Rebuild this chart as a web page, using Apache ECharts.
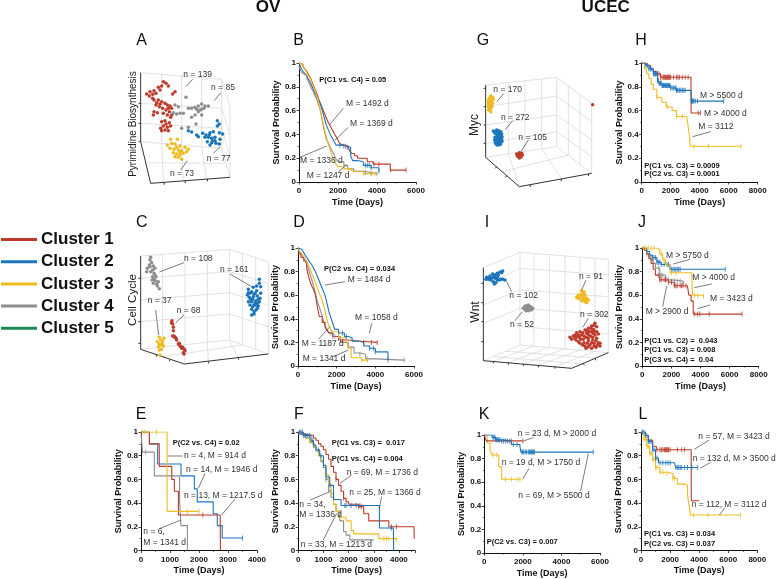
<!DOCTYPE html>
<html>
<head>
<meta charset="utf-8">
<style>html,body{margin:0;padding:0;background:#fff}#chart{width:778px;height:579px}</style>
<script src="https://cdn.jsdelivr.net/npm/echarts@6/dist/echarts.min.js"></script>
</head>
<body>
<div id="chart"></div>
<script>
// ---- survival curves, [days, probability] ----
const bC1 = [[0,1],[100,.99],[200,.97],[300,.95],[400,.93],[500,.9],[600,.87],[700,.83],[800,.79],[900,.75],[1000,.70],[1100,.66],[1200,.62],[1300,.58],[1400,.54],[1500,.5],[1600,.47],[1700,.44],[1800,.41],[1900,.38],[2000,.35],[2100,.32],[2200,.31],[2300,.30],[2500,.29],[2600,.26],[2700,.24],[2850,.22],[3000,.2],[3500,.17],[3800,.15],[4680,.10],[5490,.10]]
const bC2 = [[0,1],[100,.96],[200,.93],[300,.91],[400,.89],[500,.86],[600,.83],[700,.79],[800,.75],[900,.72],[1000,.69],[1100,.65],[1200,.60],[1300,.54],[1400,.48],[1500,.44],[1600,.40],[1700,.37],[1800,.34],[1900,.31],[2200,.30],[2500,.29],[2650,.22],[2750,.18],[3000,.17],[3300,.14],[3700,.12],[4100,.09]]
const bC3 = [[0,1],[100,.99],[200,.97],[300,.95],[400,.92],[500,.89],[600,.86],[700,.82],[800,.78],[900,.73],[1000,.68],[1100,.6],[1200,.52],[1300,.45],[1400,.38],[1500,.32],[1600,.27],[1700,.22],[1800,.18],[1900,.15],[2000,.13],[2300,.11],[2700,.09],[3300,.07],[3900,.07]]
const bC4 = [[0,.97],[100,.93],[200,.91],[300,.9],[400,.87],[500,.84],[600,.8],[700,.77],[800,.73],[900,.70],[1000,.65],[1100,.6],[1200,.51],[1300,.43],[1400,.36],[1500,.33],[1600,.29],[1700,.26],[1800,.23],[1900,.19],[2000,.17],[2300,.14],[2500,.11],[2800,.09],[3300,.08],[3700,.07],[4000,.07]]
const bCens1 = [2400, 3850, 4100, 4700, 5490]
const bCens2 = [2100, 2300, 2500, 3400, 3500, 3600, 3700, 4100]
const bCens3 = [3300, 3700, 3900]
const bCens4 = [3400, 3700, 4000]

const dC1 = [[0,.95],[150,.92],[300,.89],[450,.83],[500,.79],[600,.73],[700,.68],[800,.65],[900,.6],[950,.55],[1000,.5],[1100,.42],[1250,.37],[1400,.33],[1500,.3],[1600,.28],[1800,.25],[2100,.22],[2600,.21],[3300,.2],[4100,.2]]
const dC2 = [[0,1],[100,.99],[200,.98],[300,.96],[400,.93],[500,.91],[600,.88],[700,.86],[800,.83],[900,.8],[1000,.76],[1100,.72],[1200,.68],[1300,.64],[1400,.6],[1500,.53],[1600,.46],[1700,.41],[1800,.36],[1900,.31],[2100,.28],[2400,.25],[2600,.24],[2800,.21],[3200,.20],[3400,.17],[3700,.15],[4000,.12],[4650,.12],[4660,.05]]
const dC3 = [[0,1],[100,.97],[200,.95],[300,.93],[400,.9],[500,.87],[600,.83],[700,.79],[800,.75],[900,.71],[1000,.66],[1100,.62],[1200,.58],[1300,.53],[1400,.47],[1500,.39],[1600,.34],[1700,.31],[1800,.29],[2100,.24],[2500,.22],[2600,.15],[2750,.07],[3300,.05],[3600,.05]]
const dC4 = [[0,.98],[100,.96],[200,.94],[300,.91],[400,.88],[500,.84],[600,.79],[700,.74],[800,.68],[900,.62],[1000,.55],[1100,.5],[1200,.45],[1300,.39],[1400,.34],[1500,.31],[1600,.28],[1800,.25],[2200,.2],[2600,.16],[2900,.11],[3200,.1],[3500,.06],[4000,.05],[5500,.05]]
const dCens1 = [3400, 3800, 4100]
const dCens2 = [2300, 2500, 3700, 3900, 4000, 4660]
const dCens3 = [3300, 3600]
const dCens4 = [1700, 1800, 1900, 3200, 3600, 5500]

const eC1 = [[0,1],[290,.9],[630,.71],[1060,.6],[1150,.5],[1290,.3],[2730,.3],[2740,0]]
const eC2 = [[0,1],[290,.9],[575,.73],[1380,.63],[1840,.52],[1940,.41],[2490,.31],[2630,.21],[2800,.105],[3500,.105]]
const eC3 = [[0,1],[900,.33],[2000,.33]]
const eC4 = [[0,1],[50,.83],[460,.63],[1330,.42],[1380,.21],[1600,0]]
const eCens1 = [2130]
const eCens2 = [3500]
const eCens3 = [60, 130, 530, 1600, 2000]
const eCens4 = [160]

const fC1 = [[0,1],[150,.98],[300,.97],[600,.95],[700,.93],[800,.9],[900,.88],[1000,.85],[1100,.81],[1200,.77],[1300,.71],[1400,.66],[1500,.6],[1600,.55],[1700,.5],[1800,.44],[1900,.41],[2000,.39],[2400,.37],[2600,.31],[2800,.25],[3200,.25],[3600,.2],[4600,.2],[4610,.1]]
const fC2 = [[0,1],[200,.97],[500,.93],[600,.89],[700,.85],[850,.8],[1000,.72],[1100,.62],[1250,.55],[1400,.43],[1700,.38],[3220,.38],[3230,.19],[3780,.19],[3790,0]]
const fC3 = [[0,1],[150,.98],[300,.95],[450,.91],[600,.87],[700,.84],[800,.8],[900,.76],[1000,.72],[1100,.64],[1200,.56],[1300,.48],[1400,.39],[1500,.33],[1600,.28],[1900,.25],[2100,.17],[2200,.14],[3200,.1],[3900,.09]]
const fC4 = [[0,.98],[300,.95],[450,.92],[600,.88],[700,.84],[800,.8],[900,.75],[1000,.7],[1100,.6],[1200,.51],[1300,.45],[1400,.39],[1500,.33],[1650,.25],[1800,.16],[1900,.13],[2050,.09],[3000,.09]]
const fCens1 = [1500, 1800, 2400, 2500, 3700, 3900]
const fCens2 = [60,100,160,200,260,300,380,450,550,620,800,900,1000,1250,1850,1900,2100,2300,2450,3700]
const fCens3 = [3400, 3500, 3600, 3900]
const fCens4 = [1100, 1200]

const hC1 = [[0,1],[300,.98],[600,.95],[800,.93],[1000,.91],[1300,.88],[3400,.88],[3410,.58],[4050,.58]]
const hC2 = [[0,1],[200,.99],[300,.98],[500,.95],[800,.91],[1100,.85],[1200,.83],[1400,.81],[2000,.79],[2400,.77],[3400,.77],[3420,.68],[5650,.68]]
const hC3 = [[0,1],[200,.95],[350,.91],[500,.87],[650,.82],[800,.78],[1050,.71],[1400,.67],[1700,.63],[2100,.6],[2400,.55],[3100,.54],[3200,.47],[3300,.38],[3350,.30],[6850,.30]]
const hCens1 = [1100,1200,1300,1400,1500,1550,1600,1650,1700,1750,1800,1850,1900,1950,2000,2200,2400,2500,2600,2800,3000,3200,3900,4050]
const hCens2 = [300,400,500,600,700,800,850,900,950,1000,1050,1100,1150,1200,1250,1300,1350,1400,1450,1500,1550,1600,1650,1700,1750,1800,1850,1900,1950,2000,2100,2200,2300,2350,2400,2450,2500,2600,2700,2800,2900,3000,3420,3450,3500,3550,3600,3700,3850,5650]
const hCens3 = [1050,1800,2400,2800,3600,4600,6850]

const jC1 = [[0,1],[150,.98],[300,.95],[450,.91],[600,.87],[750,.82],[900,.77],[1200,.73],[1800,.71],[2200,.68],[3100,.67],[3200,.6],[3350,.55],[3500,.44],[6850,.44]]
const jC2 = [[0,1],[300,.97],[500,.94],[700,.92],[1000,.88],[1300,.86],[1900,.82],[5700,.82]]
const jC3 = [[0,1],[1000,.99],[1200,.95],[1400,.90],[1600,.86],[1900,.79],[3400,.79],[3450,.6],[4200,.59]]
const jC4 = [[0,1],[300,.95],[450,.93],[600,.9],[750,.87],[900,.83],[1200,.77],[1600,.73],[2000,.72],[2800,.70]]
const jCens1 = [1100,1200,1300,1500,1600,1800,2000,2200,2300,2400,2600,2700,2800,3000,3600,3800,3950,4600,6850]
const jCens2 = [300,500,700,800,900,1000,1100,1200,1300,1500,1700,1800,2000,2100,2200,2300,2400,2500,2600,5700]
const jCens3 = [100,200,400,600,800,1300,1500,1700,2000,2300,3600,3800,4200]
const jCens4 = [300,500,700,900,1100,1200,1300,1400,1600,1700,1800,2000,2200,2400,2600,2800]

const kC1 = [[0,1],[100,.95],[2000,.95]]
const kC2 = [[0,1],[400,.98],[600,.96],[900,.95],[1400,.92],[1850,.9],[1900,.855],[5650,.855]]
const kC3 = [[0,1],[150,.93],[300,.87],[400,.83],[750,.73],[900,.625],[1900,.625]]
const kCens1 = [1400, 2000]
const kCens2 = [450,500,550,600,650,700,750,800,900,1000,1100,1200,1300,1500,1700,1950,2000,2050,2150,2200,2300,2350,2400,2450,2500,2550,2600,5650]
const kCens3 = [450,650,1100,1400,1700,1850]

const lC1 = [[0,1],[300,.97],[500,.93],[800,.88],[1050,.85],[3450,.85],[3460,.42],[4000,.42]]
const lC2 = [[0,1],[300,.97],[500,.92],[800,.85],[1000,.78],[1200,.74],[2300,.73],[2400,.70],[3900,.70]]
const lC3 = [[0,1],[200,.94],[400,.88],[600,.82],[800,.77],[1000,.7],[1300,.66],[1800,.65],[2200,.61],[2500,.56],[3050,.55],[3200,.47],[3300,.38],[3400,.30],[6850,.30]]
const lCens1 = [1100,1300,1400,1500,1600,1650,1700,1750,1800,1850,1900,2000,2500,2800,3000]
const lCens2 = [100,200,300,400,500,600,700,800,900,1000,1100,1300,1500,1700,1850,2000,2400,2500,2600,2700,2800,3000,3200,3500,3900]
const lCens3 = [200,300,400,500,600,700,800,900,1000,1100,1300,1500,1800,2200,2300,3600,4600,6850]

// ---- cluster scatter clouds ----
const aC1 = [[100,245],[108,250],[115,258],[95,258],[85,262],[72,272],[60,275],[50,282],[68,283],[58,288],[78,280],[135,275],[128,282],[90,270],[72,300],[85,300],[95,305],[105,310],[112,315],[120,318],[125,325],[78,315],[88,320],[98,325],[108,330],[118,335],[72,335],[82,338],[70,345],[112,345],[125,345],[100,340],[95,365],[105,362],[118,368],[122,378],[112,382],[100,378],[92,385],[105,390],[115,392],[95,392],[80,308],[115,325],[122,352],[108,372],[90,312],[68,295]]
const aC2 = [[262,362],[268,372],[262,378],[175,392],[185,396],[200,405],[218,400],[228,405],[240,398],[250,395],[268,398],[278,402],[235,412],[245,415],[255,412],[270,418],[232,425],[245,428],[258,430],[268,432],[240,435],[248,422],[205,410],[238,405],[225,412],[255,422]]
const aC3 = [[122,418],[142,418],[112,435],[125,430],[135,432],[150,438],[165,442],[175,448],[120,445],[132,448],[145,450],[155,452],[170,455],[130,458],[140,462],[150,465],[160,460],[145,472],[155,478],[135,470],[140,442],[150,458]]
const aC4 = [[168,292],[135,315],[145,320],[130,338],[140,342],[150,340],[160,340],[175,325],[185,325],[195,322],[205,318],[215,312],[225,318],[235,318],[215,328],[205,335],[195,345],[185,352],[215,345],[198,372],[175,382],[155,385],[210,330],[200,328],[222,325]]

const cC1 = [[516,362],[518,372],[520,382],[520,392],[518,408],[525,412],[530,420],[535,432],[540,438],[548,442],[553,448],[550,458],[552,462],[545,445],[514,368],[522,408],[528,415],[538,430],[543,440],[555,452]]
const cC2 = [[778,238],[778,250],[782,260],[770,258],[760,262],[745,268],[742,285],[755,275],[770,272],[782,280],[748,292],[760,290],[772,288],[780,295],[745,305],[755,305],[768,302],[778,305],[750,315],[762,315],[775,318],[755,328],[768,330],[755,345],[762,342],[772,325],[765,280],[758,298],[750,280],[762,283],[775,298],[752,298],[765,308],[758,320],[768,315],[762,335],[745,278],[772,310]]
const cC3 = [[478,412],[492,415],[472,425],[488,425],[483,435],[475,440],[490,438],[478,450],[484,448],[480,465],[482,420],[486,432],[478,432]]
const cC4 = [[452,172],[450,180],[455,188],[448,195],[460,198],[442,205],[465,205],[440,215],[452,215],[462,220],[458,230],[468,230],[456,240],[466,242],[460,250],[470,252],[472,258],[478,266],[465,225],[475,245],[450,200],[458,210],[462,238]]

const gC1 = [[170,462],[178,458],[185,460],[172,468],[180,468],[187,465],[178,474],[175,463],[182,463],[176,470],[183,471],[398,314]]
const gC2 = [[100,393],[110,390],[122,395],[105,400],[115,398],[125,402],[112,406],[122,410],[105,412],[115,414],[125,416],[108,420],[118,422],[126,424],[106,428],[115,430],[122,432],[112,435],[108,395],[116,392],[118,404],[110,412],[120,416],[104,420],[112,424],[120,427],[108,432],[118,434],[126,410]]
const gC3 = [[92,288],[98,292],[88,295],[100,298],[85,302],[95,302],[90,308],[98,310],[86,312],[93,316],[88,322],[96,320],[90,328],[92,335],[86,330],[94,296],[90,300],[86,306],[94,309],[90,316],[85,320],[92,324]]

const iC1 = [[405,370],[395,378],[410,380],[385,385],[400,388],[375,390],[360,395],[350,398],[340,408],[350,410],[365,405],[380,400],[395,395],[410,395],[335,418],[348,420],[362,418],[378,412],[392,408],[405,405],[360,430],[372,428],[385,422],[398,420],[410,415],[375,438],[390,435],[402,430],[415,428],[420,438],[408,442],[395,445],[402,376],[392,385],[380,392],[368,398],[355,405],[345,415],[358,412],[372,408],[386,405],[400,400],[415,402],[370,418],[385,415],[398,412],[408,422],[355,425],[368,435],[382,430],[395,428],[412,435],[378,445],[345,405],[330,412],[388,395],[402,392],[420,430],[385,440],[402,438]]
const iC2 = [[128,213],[120,216],[112,220],[105,225],[98,222],[90,228],[80,232],[78,238],[85,238],[95,235],[105,235],[100,245],[108,248],[118,240],[128,238],[135,240],[112,232],[92,240],[103,252],[125,218],[115,225],[108,230],[100,230],[88,233],[112,240],[122,238]]
const iC3 = [[365,272],[372,275],[355,285],[365,285],[375,285],[350,292],[360,294],[370,295],[380,295],[365,302],[375,305],[385,300],[380,308],[368,280],[360,288],[372,290],[378,300],[355,295],[370,300]]
const iC4 = [[195,318],[205,315],[212,320],[190,325],[200,325],[210,328],[218,325],[198,332],[205,332],[200,318],[208,322],[195,328],[214,330]]

const clusterNames = ['Cluster 1', 'Cluster 2', 'Cluster 3', 'Cluster 4', 'Cluster 5']
const clusterColors = ['#bd3b2b', '#1b75bb', '#efbb1f', '#8e8e8e', '#1a8a55']

// ---- layout: notes and wire boxes use crop units, 3 units per pixel from ox, oy ----
const kmPanels = [
  { left: 299, top: 63, w: 117, h: 119, xMax: 6000, xInt: 2000, ox: 130, oy: 0,
    curves: [[0, bC1, bCens1], [1, bC2, bCens2], [3, bC4, bCens4], [2, bC3, bCens3]],
    notes: [['P(C1 vs. C4) = 0.05', 568, 240, 1], ['M = 1492 d', 648, 310], ['M = 1369 d', 660, 370], ['M = 1336 d', 510, 481], ['M = 1247 d', 530, 526]],
    leaders: [[640, 325, 598, 375], [655, 382, 615, 420], [510, 472, 590, 438], [625, 515, 650, 495]] },
  { left: 298, top: 248, w: 116, h: 118, xMax: 6000, xInt: 2000, ox: 0, oy: 200,
    curves: [[3, dC4, dCens4], [0, dC1, dCens1], [2, dC3, dCens3], [1, dC2, dCens2]],
    notes: [['P(C2 vs. C4) = 0.034', 972, 208, 1], ['M = 1484 d', 1043, 240], ['M = 1058 d', 1065, 353], ['M = 1187 d', 905, 432], ['M = 1341 d', 908, 477]],
    leaders: [[1035, 245, 975, 255], [1115, 370, 1108, 400], [955, 418, 990, 380], [1000, 470, 1045, 450]] },
  { left: 141, top: 432, w: 116, h: 118.5, xMax: 4000, xInt: 1000, ox: 110, oy: 385,
    curves: [[3, eC4, eCens4], [1, eC2, eCens2], [0, eC1, eCens1], [2, eC3, eCens3]],
    notes: [['P(C2 vs. C4) = 0.02', 188, 174, 1], ['n = 4, M = 914 d', 222, 212], ['n = 14, M = 1946 d', 228, 253], ['n = 13, M = 1217.5 d', 222, 331], ['n = 6,', 100, 441], ['M = 1341 d', 100, 472]],
    leaders: [[175, 213, 218, 213], [285, 265, 265, 310], [375, 342, 335, 390], [150, 430, 213, 405]] },
  { left: 298.3, top: 432, w: 116.7, h: 118.5, xMax: 4640, xInt: 1000, ox: 110, oy: 385,
    curves: [[3, fC4, fCens4], [2, fC3, fCens3], [0, fC1, fCens1], [1, fC2, fCens2]],
    notes: [['P(C1 vs. C3) =  0.017', 665, 175, 1], ['P(C1 vs. C4) = 0.004', 665, 222, 1], ['n = 69, M = 1736 d', 710, 263], ['n = 25, M = 1366 d', 718, 322], ['n = 34,', 568, 360], ['M = 1336 d', 568, 390], ['n = 33, M = 1213 d', 572, 480]],
    leaders: [[725, 270, 690, 295], [815, 335, 808, 370], [600, 345, 660, 320], [640, 465, 680, 385]] },
  { left: 641.7, top: 63, w: 116, h: 119, xMax: 8000, xInt: 2000, ox: 460, oy: 0,
    curves: [[0, hC1, hCens1], [2, hC3, hCens3], [1, hC2, hCens2]],
    notes: [['M > 5500 d', 720, 287], ['M > 4000 d', 732, 341], ['M = 3112', 715, 380], ['P(C1 vs. C3) = 0.0009', 553, 497, 1], ['P(C2 vs. C3) = 0.0001', 553, 523, 1]],
    leaders: [[752, 395, 698, 410]] },
  { left: 642.3, top: 248, w: 116.4, h: 118, xMax: 8000, xInt: 2000, ox: 460, oy: 200,
    curves: [[1, jC2, jCens2], [2, jC3, jCens3], [3, jC4, jCens4], [0, jC1, jCens1]],
    notes: [['M > 5750 d', 618, 167], ['M > 4000 d', 697, 232], ['M = 3423 d', 750, 297], ['M > 2900 d', 557, 336], ['P(C1 vs. C2) =  0.043', 553, 423, 1], ['P(C1 vs. C3) = 0.008', 553, 450, 1], ['P(C3 vs. C4) =  0.04', 553, 479, 1]],
    leaders: [[690, 178, 640, 192], [755, 252, 703, 263], [750, 315, 712, 326], [608, 320, 620, 258]] },
  { left: 484.3, top: 435, w: 115.7, h: 118.7, xMax: 6000, xInt: 2000, ox: 460, oy: 385,
    curves: [[2, kC3, kCens3], [0, kC1, kCens1], [1, kC2, kCens2]],
    notes: [['n = 23 d, M > 2000 d', 173, 146], ['n = 19 d, M > 1750 d', 125, 232], ['n = 69, M > 5500 d', 175, 333], ['P(C2 vs. C3) = 0.007', 80, 472, 1]],
    leaders: [[190, 168, 220, 158], [188, 283, 207, 250], [362, 318, 385, 205]] },
  { left: 641, top: 432, w: 116.3, h: 118.5, xMax: 8000, xInt: 2000, ox: 460, oy: 385,
    curves: [[0, lC1, lCens1], [1, lC2, lCens2], [2, lC3, lCens3]],
    notes: [['n = 57, M = 3423 d', 715, 155], ['n = 132 d, M > 3500 d', 698, 220], ['n = 112, M = 3112 d', 695, 358], ['P(C1 vs. C3) = 0.034', 552, 448, 1], ['P(C2 vs. C3) = 0.037', 552, 476, 1]],
    leaders: [[703, 193, 748, 165], [720, 250, 752, 232], [778, 390, 795, 368]] }
]

const cloudPanels = [
  { ox: 130, oy: 0, w: 115, h: 195,
    clouds: [[0, aC1], [1, aC2], [2, aC3], [3, aC4]],
    notes: [['n = 139', 160, 223], ['n = 85', 243, 263], ['n = 77', 230, 475], ['n = 73', 120, 522]],
    leaders: [[188, 238, 168, 260], [272, 278, 253, 302], [250, 460, 270, 440], [172, 482, 152, 510]],
    wire: [[32,218,275,238],[32,310,275,325],[32,370,275,385],[32,425,275,445],[95,222,95,432],[155,226,155,438],[215,232,215,440],[275,238,275,445],[275,445,300,532],[275,238,300,320],[300,320,300,532],[275,325,300,405],[275,385,300,470],[47,488,288,490],[100,548,95,432],[160,545,155,438],[230,538,215,440]],
    edges: [[32,218,32,425],[32,425,62,550],[62,550,300,532],[32,310,26,310],[32,370,26,370],[32,425,26,425],[102,547,103,554],[165,542,166,549],[232,537,233,544]] },
  { ox: 0, oy: 200, w: 275, h: 115,
    clouds: [[0, cC1], [1, cC2], [2, cC3], [3, cC4]],
    notes: [['n = 108', 552, 175], ['n = 161', 660, 210], ['n = 37', 443, 303], ['n = 68', 530, 333]],
    leaders: [[552, 188, 478, 216], [690, 222, 755, 260], [467, 330, 476, 405], [552, 345, 527, 368]],
    wire: [[422,168,688,148],[688,148,805,185],[688,148,688,420],[805,185,805,462],[422,235,688,215],[422,300,688,278],[422,365,688,342],[688,215,805,250],[688,278,805,315],[688,342,805,380],[488,163,488,442],[555,158,555,435],[622,153,622,428],[727,160,727,435],[767,172,767,448],[422,448,688,420],[688,420,805,462],[488,470,727,435],[553,492,555,435],[625,484,622,428],[715,473,688,420]],
    edges: [[422,168,422,448],[422,448,553,492],[553,492,805,462],[422,235,415,235],[422,365,415,365],[422,430,415,430],[625,484,626,490],[715,473,716,479],[470,464,468,470],[510,478,508,484]] },
  { ox: 460, oy: 0, w: 120, h: 195,
    clouds: [[0, gC1], [1, gC2], [2, gC3]],
    notes: [['n = 170', 100, 268], ['n = 272', 123, 352], ['n = 105', 175, 412]],
    leaders: [[132, 280, 110, 305], [158, 362, 135, 390], [205, 420, 183, 455]],
    wire: [[77,255,290,232],[290,232,395,310],[290,232,290,440],[395,310,395,520],[77,320,290,288],[77,375,290,345],[77,430,290,395],[290,288,395,365],[290,345,395,420],[290,395,395,470],[145,248,145,462],[195,242,195,455],[245,237,245,447],[325,258,325,465],[360,285,360,493],[77,472,290,440],[290,440,395,520],[128,515,325,465],[178,560,145,462],[305,537,245,447]],
    edges: [[77,255,77,472],[77,472,178,560],[178,560,395,520],[77,265,71,265],[77,320,71,320],[77,375,71,375],[77,430,71,430],[210,554,211,561],[303,537,304,544],[385,522,386,528],[110,500,106,505],[140,527,136,532]] },
  { ox: 460, oy: 200, w: 150, h: 175,
    clouds: [[0, iC1], [1, iC2], [2, iC3], [3, iC4]],
    notes: [['n = 91', 357, 230], ['n = 102', 148, 288], ['n = 52', 150, 375], ['n = 302', 360, 343]],
    leaders: [[378, 240, 365, 270], [155, 275, 140, 245], [165, 362, 187, 335], [385, 355, 368, 382]],
    wire: [[70,203,180,157],[180,157,445,178],[180,157,180,435],[445,178,445,458],[70,260,180,205],[70,315,180,270],[70,370,180,325],[180,205,445,225],[180,270,445,290],[180,325,445,345],[180,380,445,402],[222,160,222,438],[268,164,268,442],[315,168,315,446],[360,171,360,450],[405,175,405,454],[70,482,180,435],[180,435,445,458],[100,484,222,438],[145,488,268,442],[190,492,315,446],[235,496,360,450],[285,500,405,454],[102,470,368,492],[140,454,405,474]],
    edges: [[70,203,70,482],[70,482,335,505],[335,505,445,458],[70,250,64,250],[70,308,64,308],[70,365,64,365],[70,425,64,425],[100,484,100,490],[145,488,145,494],[190,492,190,498],[235,496,235,502],[285,500,285,506],[370,490,373,496],[405,475,408,481]] }
]

const headings = [['OV', 268, 7.5], ['UCEC', 605.7, 7.5]]
const letters = [['A', 141.7, 41], ['B', 298.7, 41], ['C', 141.7, 223], ['D', 299, 223], ['E', 141, 415], ['F', 299, 415], ['G', 483, 41], ['H', 641, 41], ['I', 487, 223], ['J', 642, 223], ['K', 484, 415], ['L', 643, 415]]
const cloudTitles = [['Pyrimidine Biosynthesis', 133, 124, 10], ['Cell Cycle', 133, 300, 11.5], ['Myc', 475, 125, 12], ['Wnt', 476, 312, 12]]

const FONT = '"Liberation Sans", Arial, sans-serif'
const GRID_GRAY = '#d6d6d6'

// survival value at a censoring time, taken from its step curve
function survivalAt (curve, t) {
  let s = curve[0][1]
  for (const p of curve) {
    if (p[0] <= t) s = p[1]
  }
  return s
}

function addText (list, text, x, y, font, color, align, rotation) {
  list.push({
    type: 'text', x: x, y: y, z: 20, rotation: rotation || 0, silent: true,
    style: { text: text, font: font, fill: color, textAlign: align || 'left', textVerticalAlign: 'middle' }
  })
}

function addLine (list, s, ox, oy, color, width, z) {
  list.push({
    type: 'line', z: z, silent: true,
    shape: { x1: ox + s[0] / 3, y1: oy + s[1] / 3, x2: ox + s[2] / 3, y2: oy + s[3] / 3 },
    style: { stroke: color, lineWidth: width }
  })
}

function addNotes (list, p) {
  p.notes.forEach(n => {
    addText(list, n[0], p.ox + n[1] / 3, p.oy + n[2] / 3, (n[3] ? 'bold 7.5px ' : '8.5px ') + FONT, n[3] ? '#111' : '#333')
  })
  p.leaders.forEach(s => addLine(list, s, p.ox, p.oy, '#444', 0.7, 15))
}

const grids = []
const xAxes = []
const yAxes = []
const series = []
const graphics = []

kmPanels.forEach(p => {
  const idx = grids.length
  grids.push({ left: p.left, top: p.top, width: p.w, height: p.h, containLabel: false })
  xAxes.push({
    gridIndex: idx, type: 'value', min: 0, max: p.xMax, interval: p.xInt,
    name: 'Time (Days)', nameLocation: 'middle', nameGap: 16,
    nameTextStyle: { fontFamily: FONT, fontWeight: 'bold', fontSize: 9, color: '#111' },
    axisLine: { onZero: false, lineStyle: { color: '#111', width: 1 } },
    axisTick: { show: true, inside: false, length: 2.5, lineStyle: { color: '#111', width: 0.8 } },
    minorTick: { show: true, splitNumber: 2, length: 1.5, lineStyle: { color: '#111', width: 0.6 } },
    axisLabel: {
      fontFamily: FONT, fontWeight: 'bold', fontSize: 8, color: '#111', margin: 5,
      showMaxLabel: p.xMax % p.xInt === 0, hideOverlap: false, formatter: v => String(v)
    },
    splitLine: { show: false }
  })
  yAxes.push({
    gridIndex: idx, type: 'value', min: 0, max: 1, interval: 0.2,
    name: 'Survival Probability', nameLocation: 'middle', nameGap: 13,
    nameTextStyle: { fontFamily: FONT, fontWeight: 'bold', fontSize: 9, color: '#111' },
    axisLine: { onZero: false, lineStyle: { color: '#111', width: 1 } },
    axisTick: { show: true, inside: false, length: 2.5, lineStyle: { color: '#111', width: 0.8 } },
    minorTick: { show: true, splitNumber: 2, length: 1.5, lineStyle: { color: '#111', width: 0.6 } },
    axisLabel: { fontFamily: FONT, fontWeight: 'bold', fontSize: 8, color: '#111', margin: 3 },
    splitLine: { show: false }
  })
  p.curves.forEach(c => {
    const color = clusterColors[c[0]]
    series.push({
      type: 'line', name: clusterNames[c[0]], xAxisIndex: idx, yAxisIndex: idx,
      step: 'end', showSymbol: false, data: c[1], color: color,
      lineStyle: { color: color, width: 1.1 }, silent: true, animation: false, z: 3
    })
    series.push({
      type: 'scatter', name: clusterNames[c[0]], xAxisIndex: idx, yAxisIndex: idx,
      data: c[2].map(t => [t, survivalAt(c[1], t)]), symbol: 'rect', symbolSize: [1, 5], color: color,
      itemStyle: { color: color }, silent: true, animation: false, z: 4
    })
  })
  addNotes(graphics, p)
})

cloudPanels.forEach(p => {
  const idx = grids.length
  grids.push({ left: p.ox, top: p.oy, width: p.w, height: p.h, containLabel: false })
  xAxes.push({ gridIndex: idx, type: 'value', min: 0, max: p.w * 3, show: false })
  yAxes.push({ gridIndex: idx, type: 'value', min: 0, max: p.h * 3, inverse: true, show: false })
  p.clouds.forEach(c => {
    const color = clusterColors[c[0]]
    series.push({
      type: 'scatter', name: clusterNames[c[0]], xAxisIndex: idx, yAxisIndex: idx,
      data: c[1], symbol: 'circle', symbolSize: 3.5, color: color, itemStyle: { color: color, opacity: 1 },
      clip: false, silent: true, animation: false, z: 4
    })
  })
  p.wire.forEach(s => addLine(graphics, s, p.ox, p.oy, GRID_GRAY, 0.7, 0))
  p.edges.forEach(s => addLine(graphics, s, p.ox, p.oy, '#333', 1, 1))
  addNotes(graphics, p)
})

// Cluster 5 never appears in a panel but keeps its legend row
series.push({
  type: 'line', name: clusterNames[4], xAxisIndex: 0, yAxisIndex: 0, data: [], color: clusterColors[4],
  lineStyle: { color: clusterColors[4] }, showSymbol: false, animation: false
})

headings.forEach(h => addText(graphics, h[0], h[1], h[2], 'bold 17px ' + FONT, '#111', 'center'))
letters.forEach(l => addText(graphics, l[0], l[1], l[2], '16px ' + FONT, '#111', 'center'))
cloudTitles.forEach(t => addText(graphics, t[0], t[1], t[2], t[3] + 'px ' + FONT, '#222', 'center', Math.PI / 2))

const chart = echarts.init(document.getElementById('chart'), null, { renderer: 'canvas' })
chart.setOption({
  animation: false,
  backgroundColor: '#fff',
  grid: grids,
  xAxis: xAxes,
  yAxis: yAxes,
  series: series,
  graphic: { elements: graphics },
  legend: {
    orient: 'vertical', left: 1, top: 231, selectedMode: false,
    data: clusterNames.map(n => ({ name: n, icon: 'rect' })),
    itemWidth: 36, itemHeight: 3, itemGap: 5.2, padding: 0,
    textStyle: { fontFamily: FONT, fontWeight: 'bold', fontSize: 17, color: '#111', padding: [0, 0, 0, -1], lineHeight: 17 }
  }
})
</script>
</body>
</html>
